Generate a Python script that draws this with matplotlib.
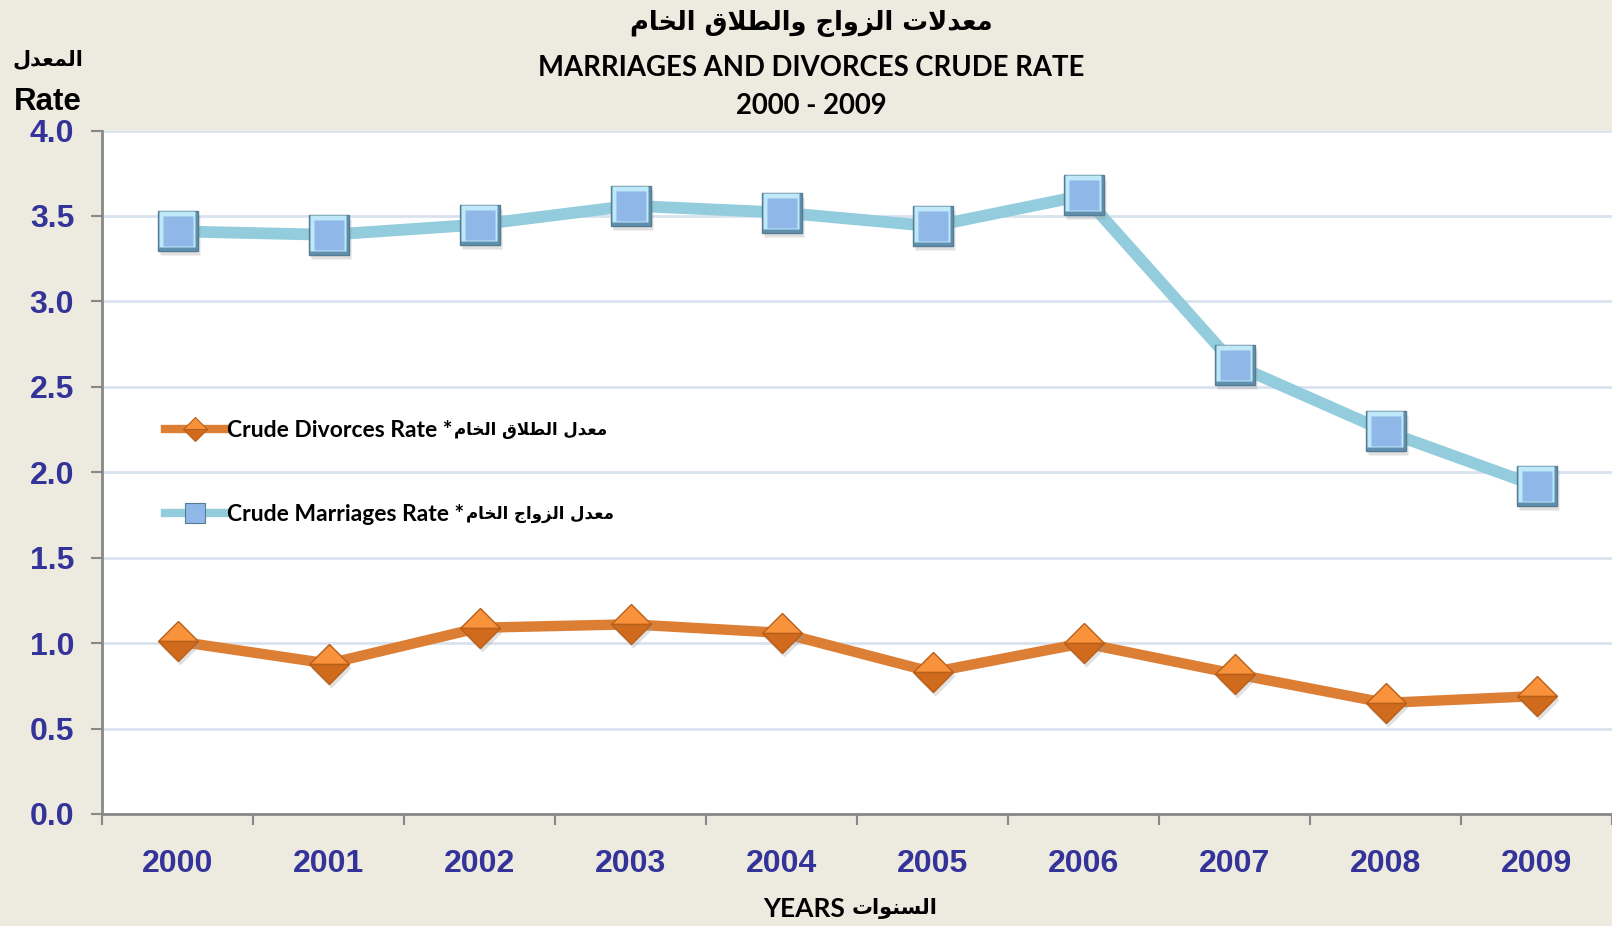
import matplotlib
matplotlib.use("Agg")
import matplotlib.pyplot as plt
import matplotlib.transforms as mtransforms
from matplotlib.lines import Line2D

# data
years = ["2000", "2001", "2002", "2003", "2004", "2005", "2006", "2007", "2008", "2009"]
marriages = [3.41, 3.39, 3.45, 3.56, 3.52, 3.44, 3.62, 2.63, 2.24, 1.92]
divorces = [1.01, 0.88, 1.09, 1.11, 1.06, 0.83, 1.00, 0.82, 0.65, 0.69]
yticks = [0.0, 0.5, 1.0, 1.5, 2.0, 2.5, 3.0, 3.5, 4.0]

title_ar = "معدلات الزواج والطلاق الخام"
title_en = "MARRIAGES AND DIVORCES CRUDE RATE"
title_years = "2000 - 2009"
ylabel_ar = "المعدل"
ylabel_en = "Rate"
xlabel_ar = "السنوات"
xlabel_en = "YEARS"
div_ar = "معدل الطلاق الخام"
div_en = "Crude Divorces Rate"
mar_ar = "معدل الزواج الخام"
mar_en = "Crude Marriages Rate"

# simple arabic shaping (presentation forms) since matplotlib has no shaper
# isolated, final, initial, medial
FORMS = {
    'ا': ('\uFE8D', '\uFE8E', None, None),
    'ت': ('\uFE95', '\uFE96', '\uFE97', '\uFE98'),
    'ج': ('\uFE9D', '\uFE9E', '\uFE9F', '\uFEA0'),
    'خ': ('\uFEA5', '\uFEA6', '\uFEA7', '\uFEA8'),
    'د': ('\uFEA9', '\uFEAA', None, None),
    'ز': ('\uFEAF', '\uFEB0', None, None),
    'س': ('\uFEB1', '\uFEB2', '\uFEB3', '\uFEB4'),
    'ط': ('\uFEC1', '\uFEC2', '\uFEC3', '\uFEC4'),
    'ع': ('\uFEC9', '\uFECA', '\uFECB', '\uFECC'),
    'ق': ('\uFED5', '\uFED6', '\uFED7', '\uFED8'),
    'ل': ('\uFEDD', '\uFEDE', '\uFEDF', '\uFEE0'),
    'م': ('\uFEE1', '\uFEE2', '\uFEE3', '\uFEE4'),
    'ن': ('\uFEE5', '\uFEE6', '\uFEE7', '\uFEE8'),
    'و': ('\uFEED', '\uFEEE', None, None),
    'LA': ('\uFEFB', '\uFEFC', None, None),
}


def ar(text):
    chars = []
    i = 0
    while i < len(text):
        if text[i] == 'ل' and i + 1 < len(text) and text[i + 1] == 'ا':
            chars.append('LA')
            i += 2
        else:
            chars.append(text[i])
            i += 1
    res = []
    for k, c in enumerate(chars):
        f = FORMS.get(c)
        if f is None:
            res.append(c)
            continue
        prev = FORMS.get(chars[k - 1]) if k > 0 else None
        nxt = FORMS.get(chars[k + 1]) if k + 1 < len(chars) else None
        jp = prev is not None and prev[2] is not None
        jn = nxt is not None and f[2] is not None
        if jp and jn:
            res.append(f[3])
        elif jp:
            res.append(f[1])
        elif jn:
            res.append(f[2])
        else:
            res.append(f[0])
    return ''.join(reversed(res))


BG = '#EDEBE0'
BLUE_TXT = '#333399'
MAR_LINE = '#93CDDD'
DIV_LINE = '#DD7E35'
FONT = ['Lato', 'DejaVu Sans']
AR_FONT = ['DejaVu Sans']

fig = plt.figure(figsize=(16.12, 9.26), dpi=100, facecolor=BG)
ax = fig.add_axes([0.0633, 0.121, 0.9367, 0.738])
ax.set_facecolor('white')

x = list(range(len(years)))

# lines
ax.plot(x, marriages, color=MAR_LINE, lw=8.5, zorder=3, solid_capstyle='butt')
ax.plot(x, divorces, color=DIV_LINE, lw=7.5, zorder=3, solid_capstyle='butt')

# marker shadows
shadow = mtransforms.offset_copy(ax.transData, fig=fig, x=2, y=-4, units='dots')
ax.plot(x, marriages, 's', ms=29, mfc='#999999', mec='none', alpha=0.3, transform=shadow, zorder=4)
ax.plot(x, divorces, 'D', ms=20, mfc='#999999', mec='none', alpha=0.3, transform=shadow, zorder=4)

# bevelled squares
ax.plot(x, marriages, 's', ms=29, mfc='#5F8FAF', mec='#557C92', mew=1, zorder=5)
up = mtransforms.offset_copy(ax.transData, fig=fig, x=-1, y=2, units='dots')
ax.plot(x, marriages, 's', ms=26.5, mfc='#BFE8F8', mec='none', transform=up, zorder=6)
ax.plot(x, marriages, 's', ms=21.5, mfc='#8FB8E8', mec='none', zorder=7)

# two-tone diamonds
ax.plot(x, divorces, 'D', ms=20, fillstyle='top', mfc='#F8933C', mfcalt='#D06A1C',
        mec='#B85F1A', mew=1, zorder=5)

ax.set_xlim(-0.5, len(years) - 0.5)
ax.set_ylim(0, 4)

ax.set_yticks(yticks)
ax.set_yticklabels(["%.1f" % v for v in yticks], fontfamily='Liberation Sans',
                   fontweight='bold', fontsize=23, color=BLUE_TXT)
ax.set_xticks(x)
ax.set_xticklabels(years, fontfamily='Liberation Sans', fontweight='bold',
                   fontsize=23, color=BLUE_TXT)
ax.set_xticks([v - 0.5 for v in range(len(years) + 1)], minor=True)
ax.tick_params(axis='x', which='major', length=0, pad=25)
ax.tick_params(axis='x', which='minor', length=8, width=1.5, color='#888888', direction='out')
ax.tick_params(axis='y', length=8, width=1.5, color='#888888', pad=12)

ax.grid(axis='y', color='#D9E3EF', lw=2, zorder=0)
ax.set_axisbelow(True)
for s in ['top', 'right']:
    ax.spines[s].set_visible(False)
for s in ['left', 'bottom']:
    ax.spines[s].set_color('#888888')
    ax.spines[s].set_linewidth(2)
    ax.spines[s].set_zorder(2)

# titles
fig.text(0.5035, 0.975, ar(title_ar), ha='center', va='center', fontsize=18.5,
         fontweight='bold', family=AR_FONT)
fig.text(0.5035, 0.927, title_en, ha='center', va='center', fontsize=19.8,
         fontweight='bold', family=FONT)
fig.text(0.5035, 0.885, title_years, ha='center', va='center', fontsize=19.8,
         fontweight='bold', family=FONT)

# y axis label
fig.text(0.0295, 0.936, ar(ylabel_ar), ha='center', va='center', fontsize=15,
         fontweight='bold', family=AR_FONT)
fig.text(0.0295, 0.89, ylabel_en, ha='center', va='center', fontsize=22.5,
         fontweight='bold', family='Liberation Sans')

# x axis label: english then arabic to its right
fig.text(0.5285, 0.0185, xlabel_en + " ", ha='right', va='center',
         fontsize=19, fontweight='bold', family=FONT)
fig.text(0.5285, 0.0185, ar(xlabel_ar), ha='left', va='center',
         fontsize=15, fontweight='bold', family=AR_FONT)

# legend (english part), arabic part placed after each label
h_div = Line2D([], [], color=DIV_LINE, lw=6, marker='D', ms=12, fillstyle='top',
               mfc='#F8933C', mfcalt='#D06A1C', mec='#B85F1A', mew=0.8)
h_mar = Line2D([], [], color=MAR_LINE, lw=6, marker='s', ms=14, mfc='#8FB8E8',
               mec='#557C92', mew=0.8)
leg = ax.legend([h_div, h_mar], [div_en + " *", mar_en + " *"],
                loc='upper left', bbox_to_anchor=(0.042, 0.577), frameon=False,
                handlelength=2.6, handletextpad=0.1, borderpad=0, borderaxespad=0,
                labelspacing=2.75, numpoints=1,
                prop={'family': FONT, 'weight': 'bold', 'size': 16.5})

fig.canvas.draw()
inv = fig.transFigure.inverted()
for t, label in zip(leg.get_texts(), [div_ar, mar_ar]):
    bb = t.get_window_extent()
    x0, y0 = inv.transform((bb.x1 + 1, (bb.y0 + bb.y1) / 2))
    fig.text(x0, y0, ar(label), ha='left', va='center', fontsize=12,
             fontweight='bold', family=AR_FONT)

fig.savefig("out.png", dpi=100, facecolor=BG)
